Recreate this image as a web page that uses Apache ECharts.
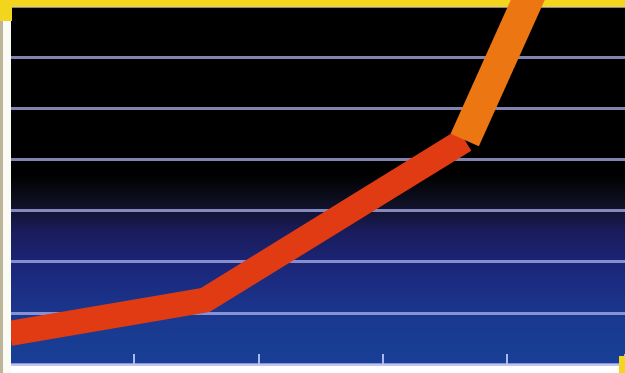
<!DOCTYPE html>
<html>
<head>
<meta charset="utf-8">
<script src="https://cdn.jsdelivr.net/npm/echarts@6/dist/echarts.min.js"></script>
<style>
html,body{margin:0;padding:0;background:#fff;}
#chart{width:625px;height:373px;}
</style>
</head>
<body>
<div id="chart"></div>
<script>
// Data
const redX = [0, 1.57, 3.66];
const redY = [0.60, 1.25, 4.38];
const orangeX = [3.66, 4.24];
const orangeY = [4.38, 7.51];
const xMin = 0, xMax = 4.95;
const yTicks = [0, 1, 2, 3, 4, 5, 6, 7];

const redData = redX.map((x, i) => [x, redY[i]]);
const orangeData = orangeX.map((x, i) => [x, orangeY[i]]);

const chart = echarts.init(document.getElementById('chart'), null, {renderer: 'canvas'});
chart.setOption({
  animation: false,
  backgroundColor: '#ffffff',
  grid: {
    left: 10, right: 0, top: 6, bottom: 9,
    show: true, borderWidth: 0,
    backgroundColor: new echarts.graphic.LinearGradient(0, 0, 0, 1, [
      {offset: 0, color: '#000000'},
      {offset: 0.47, color: '#000000'},
      {offset: 0.55, color: '#0f1022'},
      {offset: 0.63, color: '#1a1c5c'},
      {offset: 0.74, color: '#1b287c'},
      {offset: 0.87, color: '#1a388f'},
      {offset: 1, color: '#174096'}
    ])
  },
  xAxis: {
    type: 'value', min: xMin, max: xMax, interval: 1,
    axisLine: {show: false},
    axisLabel: {show: false},
    splitLine: {show: false},
    axisTick: {show: true, inside: true, length: 10, lineStyle: {color: '#aab8f0', width: 2}}
  },
  yAxis: {
    type: 'value', min: yTicks[0], max: yTicks[yTicks.length - 1], interval: 1,
    axisLine: {show: false},
    axisLabel: {show: false},
    axisTick: {show: false},
    splitLine: {show: true, lineStyle: {color: 'rgba(172,176,236,0.75)', width: 3}}
  },
  graphic: [
    {type: 'rect', z: 1, shape: {x: 0, y: 0, width: 625, height: 7}, style: {fill: '#f3d51e'}},
    {type: 'rect', z: 1, shape: {x: 0, y: 0, width: 12, height: 21}, style: {fill: '#f3d51e'}},
    {type: 'rect', z: 100, shape: {x: 0, y: 21, width: 3, height: 352}, style: {fill: '#bdb59a'}},
    {type: 'rect', z: 100, shape: {x: 3, y: 21, width: 8, height: 352}, style: {fill: '#fbfbf6'}},
    {type: 'rect', z: 1, shape: {x: 619, y: 356, width: 6, height: 17}, style: {fill: '#f3d51e'}}
  ],
  series: [
    {
      type: 'line', data: redData, showSymbol: false, clip: false, silent: true, z: 3,
      lineStyle: {color: '#e13b14', width: 25, join: 'miter', cap: 'butt'}
    },
    {
      type: 'line', data: orangeData, showSymbol: false, clip: false, silent: true, z: 4,
      lineStyle: {color: '#ec7712', width: 31, join: 'miter', cap: 'butt'}
    }
  ]
});
</script>
</body>
</html>
